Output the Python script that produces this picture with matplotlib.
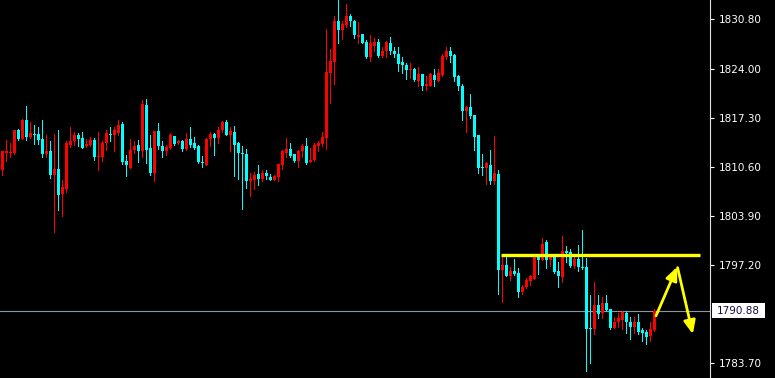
import matplotlib
matplotlib.use('Agg')
import matplotlib.pyplot as plt
from matplotlib.patches import Rectangle
import numpy as np

# OHLC data (price values)
opens = [1810.2, 1812.5, 1812.5, 1812.5, 1815.6, 1814.4, 1817.0, 1814.7, 1815.1, 1815.1,
         1814.4, 1812.4, 1812.8, 1809.5, 1810.3, 1806.9, 1807.5, 1813.6, 1814.1, 1814.9,
         1814.6, 1813.5, 1813.6, 1814.3, 1811.9, 1812.0, 1813.9, 1815.1, 1815.0, 1815.3,
         1816.4, 1811.4, 1810.5, 1812.9, 1813.6, 1812.8, 1819.1, 1813.2, 1809.7, 1815.5,
         1813.5, 1812.7, 1813.2, 1814.8, 1813.8, 1814.1, 1813.0, 1814.4, 1813.8, 1813.5,
         1811.3, 1810.9, 1814.4, 1815.1, 1814.5, 1815.6, 1816.7, 1815.0, 1815.4, 1813.8,
         1812.5, 1812.4, 1808.6, 1808.8, 1809.6, 1809.0, 1809.8, 1809.2, 1808.8, 1809.2,
         1810.9, 1812.5, 1813.0, 1812.4, 1811.4, 1812.7, 1813.4, 1811.2, 1811.5, 1813.5,
         1813.7, 1814.6, 1823.5, 1824.9, 1830.5, 1829.3, 1830.0, 1831.2, 1830.6, 1828.4,
         1828.8, 1827.7, 1825.7, 1827.2, 1827.7, 1825.8, 1826.5, 1827.6, 1826.5, 1826.0,
         1825.0, 1824.6, 1823.8, 1824.0, 1822.4, 1823.3, 1821.6, 1821.7, 1823.2, 1822.4,
         1823.2, 1825.7, 1826.4, 1825.9, 1823.0, 1821.7, 1818.2, 1818.8, 1817.7, 1814.9,
         1810.5, 1810.4, 1810.9, 1808.6, 1809.6, 1796.5, 1797.2, 1795.6, 1796.3, 1796.0,
         1793.4, 1794.1, 1795.0, 1795.3, 1798.3, 1797.8, 1800.3, 1797.8, 1798.3, 1796.4,
         1795.5, 1799.1, 1798.9, 1797.0, 1798.0, 1796.9, 1796.9, 1788.6, 1788.4, 1791.7,
         1790.6, 1792.0, 1791.2, 1788.6, 1789.3, 1789.6, 1790.6, 1789.4, 1788.7, 1789.4,
         1788.2, 1788.0, 1787.5, 1788.3]
highs = [1812.8, 1814.3, 1813.9, 1815.6, 1815.8, 1817.1, 1818.9, 1816.7, 1816.3, 1816.0,
         1817.0, 1815.0, 1814.1, 1815.1, 1815.6, 1808.8, 1814.1, 1816.1, 1815.4, 1815.3,
         1815.4, 1814.4, 1814.7, 1814.5, 1815.4, 1814.2, 1815.6, 1816.0, 1816.0, 1817.0,
         1816.7, 1812.2, 1814.4, 1814.1, 1814.3, 1819.8, 1819.9, 1815.0, 1815.5, 1816.6,
         1814.1, 1813.6, 1815.3, 1814.8, 1814.3, 1814.3, 1815.3, 1816.1, 1814.7, 1813.6,
         1812.1, 1814.6, 1815.4, 1815.2, 1816.1, 1816.9, 1817.0, 1816.0, 1816.2, 1814.0,
         1813.5, 1813.1, 1809.7, 1809.9, 1810.9, 1810.2, 1810.2, 1809.6, 1809.5, 1811.0,
         1812.9, 1814.6, 1813.8, 1812.4, 1812.9, 1813.7, 1814.5, 1813.2, 1813.8, 1814.2,
         1815.4, 1829.5, 1826.7, 1831.3, 1833.4, 1830.6, 1832.9, 1831.5, 1830.7, 1830.4,
         1828.8, 1828.0, 1828.6, 1828.3, 1828.1, 1827.0, 1827.8, 1828.4, 1827.0, 1827.0,
         1825.7, 1824.8, 1824.8, 1824.1, 1824.3, 1823.3, 1823.0, 1823.5, 1824.0, 1824.0,
         1826.0, 1827.0, 1827.0, 1826.0, 1823.2, 1821.9, 1818.9, 1820.6, 1817.7, 1814.9,
         1812.3, 1811.3, 1812.9, 1814.8, 1810.2, 1798.3, 1798.3, 1796.9, 1798.0, 1796.7,
         1794.4, 1795.4, 1795.8, 1798.4, 1798.4, 1800.8, 1800.6, 1798.4, 1798.3, 1797.6,
         1801.1, 1799.8, 1799.4, 1798.3, 1799.9, 1802.0, 1798.1, 1793.0, 1794.9, 1793.0,
         1792.8, 1793.1, 1791.2, 1790.1, 1790.6, 1790.9, 1790.8, 1790.0, 1790.1, 1790.4,
         1788.5, 1788.3, 1789.3, 1791.1]
lows = [1809.5, 1811.4, 1812.0, 1812.4, 1814.3, 1814.4, 1814.3, 1814.6, 1813.7, 1813.7,
        1811.9, 1812.0, 1809.1, 1801.7, 1804.7, 1803.9, 1807.2, 1813.3, 1813.6, 1813.5,
        1813.2, 1813.3, 1813.5, 1811.5, 1810.2, 1811.4, 1812.9, 1814.1, 1812.7, 1814.9,
        1811.0, 1809.4, 1810.5, 1812.5, 1811.2, 1811.9, 1811.1, 1809.5, 1808.7, 1813.0,
        1812.0, 1812.2, 1813.0, 1813.6, 1813.7, 1812.8, 1812.9, 1813.3, 1813.0, 1811.1,
        1810.6, 1810.8, 1813.5, 1812.2, 1813.8, 1815.4, 1815.0, 1812.8, 1809.3, 1809.0,
        1804.8, 1807.7, 1806.6, 1807.6, 1808.1, 1808.6, 1809.0, 1808.8, 1808.8, 1808.7,
        1810.3, 1812.0, 1812.0, 1811.2, 1810.6, 1811.9, 1811.0, 1811.2, 1811.4, 1812.8,
        1813.5, 1813.0, 1819.3, 1822.0, 1827.6, 1828.1, 1829.7, 1829.9, 1828.3, 1827.6,
        1827.5, 1825.5, 1825.1, 1826.5, 1825.6, 1825.6, 1825.6, 1826.1, 1825.6, 1823.7,
        1823.5, 1822.6, 1822.7, 1822.4, 1821.7, 1821.1, 1821.1, 1821.6, 1821.7, 1822.4,
        1823.0, 1825.3, 1825.0, 1822.4, 1821.1, 1817.0, 1815.4, 1817.3, 1812.9, 1809.8,
        1809.5, 1808.3, 1808.3, 1808.2, 1793.2, 1792.1, 1795.6, 1795.1, 1795.8, 1792.8,
        1793.2, 1794.0, 1794.4, 1795.2, 1795.9, 1797.8, 1796.8, 1797.0, 1796.1, 1794.1,
        1794.9, 1797.6, 1796.9, 1796.8, 1796.3, 1796.6, 1782.6, 1783.8, 1787.7, 1789.9,
        1789.9, 1790.9, 1788.4, 1788.5, 1788.7, 1788.4, 1787.8, 1787.0, 1787.8, 1787.7,
        1786.7, 1786.4, 1786.7, 1788.1]
closes = [1812.7, 1812.7, 1812.6, 1815.6, 1814.4, 1817.0, 1814.7, 1815.3, 1815.0, 1814.3,
          1812.4, 1812.8, 1809.5, 1810.3, 1806.7, 1807.8, 1813.9, 1814.1, 1814.9, 1814.4,
          1813.2, 1813.7, 1814.3, 1812.0, 1812.1, 1813.9, 1815.2, 1814.9, 1815.6, 1816.3,
          1811.3, 1810.8, 1812.9, 1813.5, 1812.8, 1819.2, 1812.9, 1809.8, 1815.5, 1813.4,
          1812.8, 1813.3, 1815.0, 1813.7, 1814.1, 1813.0, 1814.4, 1813.6, 1813.2, 1811.2,
          1811.1, 1814.4, 1815.1, 1814.6, 1815.6, 1816.8, 1815.0, 1815.5, 1813.6, 1812.5,
          1812.3, 1808.7, 1809.0, 1809.5, 1809.0, 1809.7, 1809.3, 1808.8, 1809.4, 1811.0,
          1812.7, 1813.1, 1812.1, 1811.4, 1812.8, 1813.4, 1811.1, 1811.6, 1813.6, 1813.8,
          1814.7, 1823.6, 1825.1, 1830.5, 1829.3, 1830.2, 1831.3, 1830.5, 1828.6, 1828.7,
          1827.6, 1825.6, 1827.5, 1827.7, 1825.8, 1826.5, 1827.7, 1826.4, 1826.0, 1824.7,
          1824.5, 1823.9, 1823.9, 1822.5, 1823.3, 1821.6, 1821.9, 1823.3, 1822.5, 1823.5,
          1825.8, 1826.4, 1825.8, 1822.9, 1821.6, 1818.3, 1818.8, 1817.6, 1814.7, 1810.5,
          1810.4, 1811.1, 1808.6, 1809.7, 1796.5, 1797.2, 1795.6, 1796.4, 1795.9, 1793.4,
          1794.2, 1795.1, 1795.6, 1798.3, 1797.8, 1800.1, 1797.8, 1798.3, 1796.2, 1795.6,
          1799.1, 1798.8, 1797.0, 1798.0, 1796.9, 1796.8, 1788.4, 1788.4, 1791.7, 1790.5,
          1792.0, 1791.0, 1788.6, 1789.3, 1789.9, 1790.7, 1789.3, 1788.7, 1789.4, 1788.0,
          1787.9, 1787.3, 1788.4, 1790.9]

tick_values = [1830.80, 1824.00, 1817.30, 1810.60, 1803.90, 1797.20, 1783.70]
current_price = 1790.88
resistance_level = 1798.5
resistance_start, resistance_end = 124.7, 174.4
arrow_up = ((163.4, 1790.2), (168.7, 1796.9))
arrow_down = ((168.8, 1796.8), (172.6, 1787.7))

W, H = 775, 378
fig = plt.figure(figsize=(W / 100, H / 100), dpi=100, facecolor='black')
ax = fig.add_axes([0, 0, 710 / W, 1])
ax.set_facecolor('black')

o = np.array(opens); h = np.array(highs); l = np.array(lows); c = np.array(closes)
x = np.arange(len(o))
colors = np.where(c >= o, '#ff0000', '#00ffff')

ax.vlines(x, l, h, colors=colors, linewidth=0.72, antialiased=False, zorder=2)
bottoms = np.minimum(o, c)
heights = np.maximum(np.abs(c - o), 0.14)
ax.bar(x, heights, bottom=bottoms, width=0.62, color=colors, linewidth=0,
       antialiased=False, zorder=3)

ax.set_xlim(-0.575, 176.9)
ax.set_ylim(1781.69, 1833.44)

# current price line
ax.axhline(current_price, color='#8a96a3', linewidth=0.8, zorder=1)

# resistance line
ax.hlines(resistance_level, resistance_start, resistance_end, colors='#ffff00',
          linewidth=2.4, zorder=4)

# arrows
for start, end in (arrow_up, arrow_down):
    ax.annotate('', xy=end, xytext=start,
                arrowprops=dict(arrowstyle='-|>,head_length=0.8,head_width=0.35',
                                color='#ffff00', lw=2.0, mutation_scale=10,
                                shrinkA=0, shrinkB=0), zorder=5)

# axes styling
for side in ('top', 'bottom', 'left'):
    ax.spines[side].set_visible(False)
ax.spines['right'].set_color('#e0e0e0')
ax.spines['right'].set_linewidth(0.8)
ax.set_xticks([])
ax.yaxis.tick_right()
ax.set_yticks(tick_values)
ax.set_yticklabels([f'{v:.2f}' for v in tick_values])
ax.tick_params(axis='y', colors='white', labelcolor='white', labelsize=7.5,
               length=3, width=0.8, pad=3)

# current price label (white box on the price axis)
ybox = ax.transData.transform((0, current_price))[1]
box_h = 15
fig.patches.append(Rectangle((712 / W, (ybox - box_h / 2) / H), 53 / W, box_h / H,
                             transform=fig.transFigure, facecolor='white',
                             edgecolor='none', zorder=10))
fig.text(738.5 / W, ybox / H, f'{current_price:.2f}', ha='center', va='center',
         fontsize=7.5, color='#1a0a3a', zorder=11)

fig.savefig('out.png', dpi=100, facecolor='black')
